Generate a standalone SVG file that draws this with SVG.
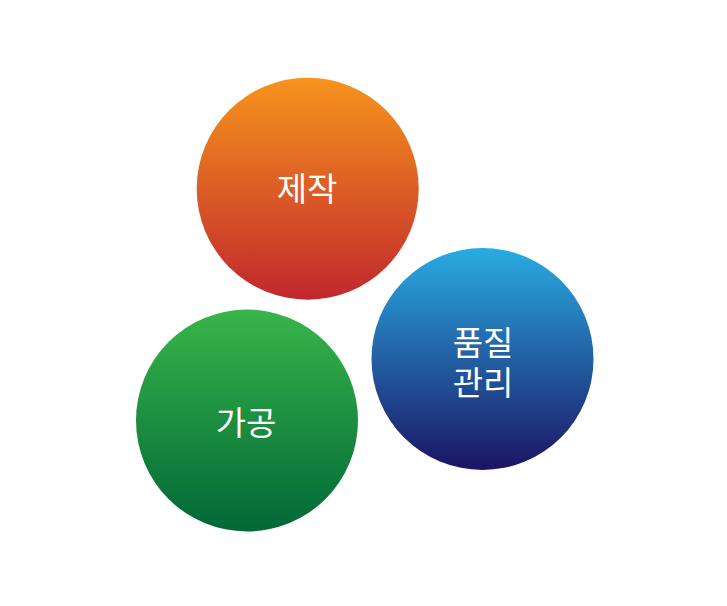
<svg xmlns="http://www.w3.org/2000/svg" width="727" height="606" viewBox="0 0 727 606">
<defs>
<linearGradient id="gOrange" x1="0" y1="0" x2="0" y2="1"><stop offset="0" stop-color="#F7941D"/><stop offset="1" stop-color="#C1272D"/></linearGradient>
<linearGradient id="gBlue" x1="0" y1="0" x2="0" y2="1"><stop offset="0" stop-color="#29ABE2"/><stop offset="1" stop-color="#1B1464"/></linearGradient>
<linearGradient id="gGreen" x1="0" y1="0" x2="0" y2="1"><stop offset="0" stop-color="#39B54A"/><stop offset="1" stop-color="#006837"/></linearGradient>
<style>
.lbl{font-family:"Noto Sans CJK KR","Noto Sans",sans-serif;font-size:33px;font-weight:400;fill:#FFFFFF;text-anchor:middle;dominant-baseline:central}
</style>
</defs>
<rect width="727" height="606" fill="#FFFFFF"/>
<g id="connectors"></g>
<g id="node-jejak">
<circle cx="307.7" cy="188.7" r="111" fill="url(#gOrange)"/>
<text class="lbl" x="307" y="187">제작</text>
</g>
<g id="node-pumjil">
<circle cx="482.5" cy="359" r="111" fill="url(#gBlue)"/>
<text class="lbl" x="483" y="341">품질</text>
<text class="lbl" x="483" y="381">관리</text>
</g>
<g id="node-gagong">
<circle cx="247" cy="420.5" r="111" fill="url(#gGreen)"/>
<text class="lbl" x="246" y="421">가공</text>
</g>
</svg>
